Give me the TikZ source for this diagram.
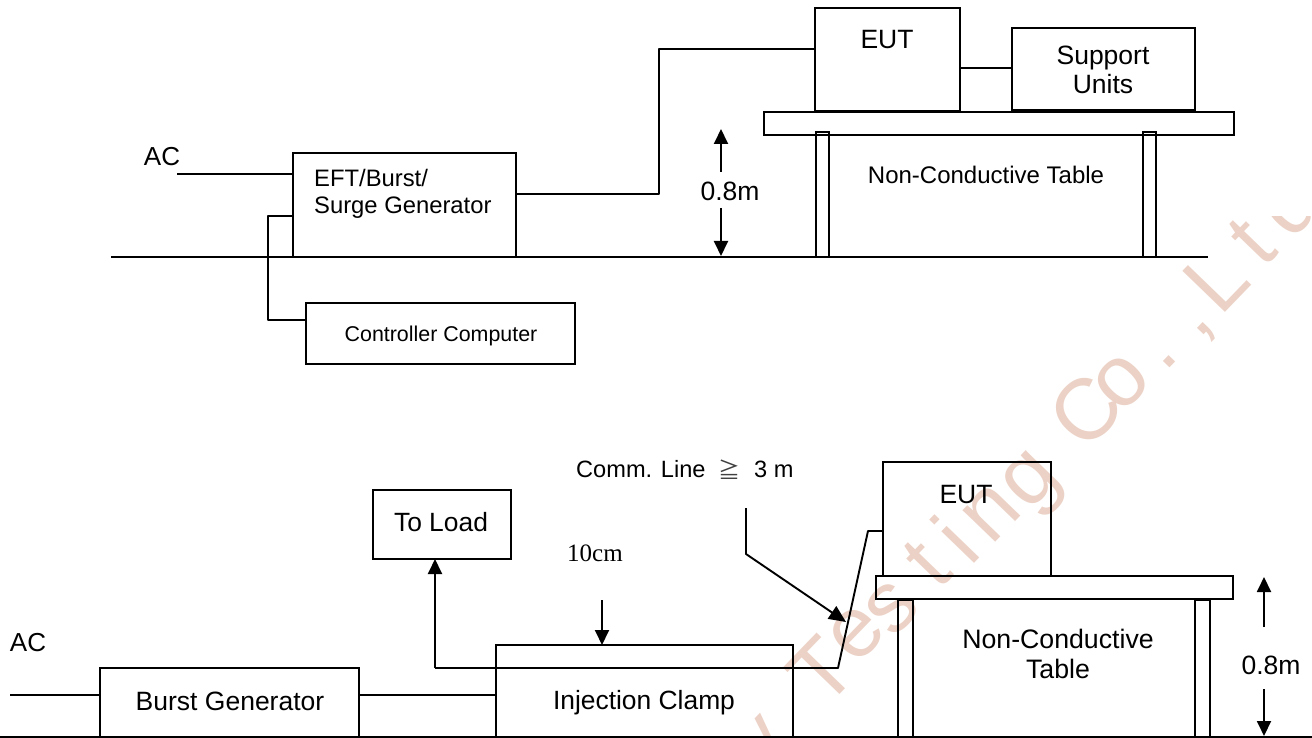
\documentclass[tikz,border=0pt]{standalone}
\usepackage{fontspec}
\setmainfont{Liberation Sans}
\newfontfamily\serifface{Liberation Serif}
\newfontfamily\cjkface{Noto Sans CJK SC}
\usetikzlibrary{arrows.meta}
\definecolor{wm}{RGB}{236,210,198}
\newcommand{\fs}[1]{\fontsize{#1}{#1}\selectfont}
\tikzset{
  x=1pt,y=-1pt,
  boxnode/.style={draw=black,line width=1.9pt,fill=none,inner sep=0pt,outer sep=0pt,anchor=north west},
  wire/.style={line width=1.9pt,line join=round},
  heavy wire/.style={line width=2.7pt,line join=round},
  tip/.style={-{Triangle[length=15pt,width=14pt]},line width=1.9pt},
  lbl/.style={inner sep=0pt,align=center,text=black},
  wmk/.style={inner sep=0pt,text=wm,rotate=46,anchor=base,font=\fs{86}}
}
\begin{document}
\begin{tikzpicture}
\useasboundingbox (0,0) rectangle (1312,738);
\fill[white] (0,0) rectangle (1312,738);
% watermark
\begin{scope}
\clip (0,217) rectangle (1312,738);
\node[wmk] (w0) at (778,760) {y};
\node[wmk] (w1) at (843,692) {T};
\node[wmk] (w2) at (873,649) {e};
\node[wmk] (w3) at (908,624) {s};
\node[wmk] (w4) at (947,583) {t};
\node[wmk] (w5) at (977,561) {i};
\node[wmk] (w6) at (1008,529) {n};
\node[wmk] (w7) at (1046,495) {g};
\node[wmk] (w8) at (1107,431) {C};
\node[wmk] (w9) at (1138,398) {o};
\node[wmk] (w10) at (1173,365) {.};
\node[wmk] (w11) at (1207,332) {,};
\node[wmk] (w12) at (1237,300) {L};
\node[wmk] (w13) at (1272,261) {t};
\node[wmk] (w14) at (1308,224) {d};
\end{scope}
% top
\draw[line width=1.9pt] (111,257) -- (1208,257);
\node[boxnode,minimum width=223pt,minimum height=104pt] (gen) at (293,153) {};
\node[lbl,anchor=west,align=left,font=\fs{23.8}] (gent) at (314,194) {EFT/Burst/\\[3pt]Surge Generator};
\node[boxnode,minimum width=269pt,minimum height=61pt] (ctrl) at (306,303) {};
\node[lbl,font=\fs{21.4}] (ctrlt) at (441,336) {Controller Computer};
\node[boxnode,minimum width=145pt,minimum height=103pt] (eut) at (815,8) {};
\node[lbl,font=\fs{26.5}] (eutt) at (887,40) {EUT};
\node[boxnode,minimum width=183pt,minimum height=82pt] (sup) at (1012,28) {};
\node[lbl,font=\fs{26.5}] (supt) at (1103,70) {Support\\[3pt]Units};
\node[boxnode,minimum width=470pt,minimum height=23pt] (tab) at (764,112) {};
\node[boxnode,minimum width=13pt,minimum height=125pt] (l1) at (816,132) {};
\node[boxnode,minimum width=13pt,minimum height=125pt] (l2) at (1143,132) {};
\node[lbl,font=\fs{24}] (tabt) at (986,175) {Non-Conductive Table};
\node[lbl,font=\fs{26}] (act) at (162,157) {AC};
\node[lbl,font=\fs{26.5}] (hgt) at (730,191) {0.8m};
\coordinate (acend) at (177,174);
\coordinate (gc) at (268,216);
\coordinate (cc) at (268,320);
\coordinate (j1) at (659,194);
\coordinate (j2) at (659,49);
\draw[wire] (acend) -- (acend -| gen.west);
\draw[heavy wire] (gen.west |- gc) -- (gc) -- (cc) -- (ctrl.west |- cc);
\draw[heavy wire] (gen.east |- j1) -- (j1) -- (j2) -- (eut.west |- j2);
\draw[wire] (eut.east |- 0,68) -- (sup.west |- 0,68);
\coordinate (d1a) at (721,172);
\coordinate (d1b) at (721,129);
\coordinate (d2a) at (721,208);
\coordinate (d2b) at (721,256);
\draw[tip] (d1a) -- (d1b);
\draw[tip] (d2a) -- (d2b);
% bottom
\draw[line width=1.9pt] (0,737) -- (1312,737);
\node[boxnode,minimum width=259pt,minimum height=69pt] (bg) at (100,668) {};
\node[lbl,font=\fs{26.5}] (bgt) at (230,701) {Burst Generator};
\node[boxnode,minimum width=297pt,minimum height=92pt] (clamp) at (496,645) {};
\node[lbl,font=\fs{26.4}] (clampt) at (644,703) {Injection Clamp};
\node[boxnode,minimum width=138pt,minimum height=69pt] (load) at (373,490) {};
\node[lbl,font=\fs{26.4}] (loadt) at (441,522) {To Load};
\node[boxnode,minimum width=168pt,minimum height=114pt] (eutb) at (883,462) {};
\node[lbl,font=\fs{26.5}] (eutbt) at (966,495) {EUT};
\node[boxnode,minimum width=357pt,minimum height=23pt] (tabb) at (876,576) {};
\node[boxnode,minimum width=15pt,minimum height=137pt] (l3) at (898,600) {};
\node[boxnode,minimum width=15pt,minimum height=137pt] (l4) at (1195,600) {};
\node[lbl,font=\fs{26.7}] (tabbt) at (1058,654) {Non-Conductive\\[3pt]Table};
\node[lbl,font=\fs{26}] (acb2) at (28,643) {AC};
\node[lbl,font=\fs{26.5}] (hgtb) at (1271,665) {0.8m};
\node[lbl,font=\fs{23.6},anchor=west] (comm) at (576,469) {Comm. Line};
\node[lbl,font=\fs{22},text=black!75] (geq) at (729,470) {\cjkface ≧};
\node[lbl,font=\fs{23.6},anchor=west] (three) at (754,469) {3 m};
\node[lbl,font=\fs{25}] (tencm) at (595,553) {\serifface 10cm};
\coordinate (acb) at (10,695);
\draw[wire] (acb) -- (bg.west |- acb);
\draw[wire] (bg.east |- 0,695) -- (clamp.west |- 0,695);
\coordinate (bl) at (435,668);
\coordinate (br) at (838,668);
\coordinate (bt) at (868,531);
\draw[wire] (bt -| eutb.west) -- (bt) -- (br) -- (bl);
\coordinate (blt) at (435,559);
\draw[tip] (bl) -- (blt);
\coordinate (c1) at (746,508);
\coordinate (c2) at (746,554);
\coordinate (c3) at (846,622);
\draw[wire,-{Triangle[length=17pt,width=15pt]}] (c1) -- (c2) -- (c3);
\coordinate (t1) at (602,600);
\draw[tip] (t1) -- (t1 |- clamp.north);
\coordinate (m1) at (1264,627);
\coordinate (m2) at (1264,577);
\coordinate (m3) at (1264,689);
\coordinate (m4) at (1264,736);
\draw[tip] (m1) -- (m2);
\draw[tip] (m3) -- (m4);
\end{tikzpicture}
\end{document}
